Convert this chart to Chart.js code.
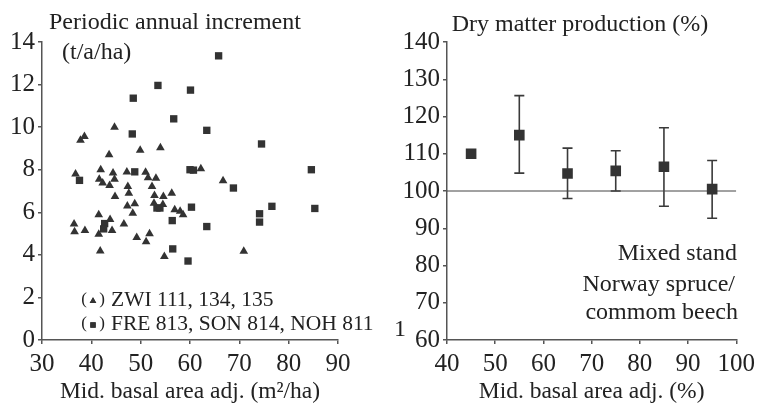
<!DOCTYPE html>
<html>
<head>
<meta charset="utf-8">
<script src="https://cdn.jsdelivr.net/npm/chart.js@4.4.1/dist/chart.umd.min.js"></script>
<style>
  html, body { margin: 0; padding: 0; background: #fff; }
  #wrap { position: relative; width: 760px; height: 403px; overflow: hidden; }
  #wrap canvas { position: absolute; top: 0; }
  #left { left: 0; }
  #right { left: 380px; }
</style>
</head>
<body>
<div id="wrap">
  <canvas id="left" width="390" height="403"></canvas>
  <canvas id="right" width="380" height="403"></canvas>
</div>
<script>
// left panel: ZWI 111, 134, 135 (triangles)
var triX = [44.7, 38.6, 37.8, 43.6, 49.9, 54.0, 62.2, 66.7, 36.8, 41.9, 44.4, 44.7, 47.2, 51.0, 51.5, 53.1,
            41.6, 42.3, 43.7, 47.4, 52.3, 47.6, 44.8, 52.8, 54.6, 56.3, 36.5, 36.6, 38.7, 41.5, 41.5, 43.8,
            44.2, 46.6, 41.8, 47.3, 48.4, 48.8, 49.2, 51.1, 51.8, 52.7, 54.5, 56.9, 58.0, 58.6, 54.8, 70.9];
var triY = [10.0, 9.56, 9.38, 8.7, 8.91, 9.03, 8.04, 7.48, 7.8, 8.0, 7.84, 7.55, 7.89, 7.88, 7.62, 7.6,
            7.55, 7.37, 7.26, 7.21, 7.21, 6.9, 6.74, 6.79, 6.74, 6.9, 5.45, 5.09, 5.15, 5.88, 4.97, 5.66,
            5.15, 5.45, 4.18, 6.3, 5.96, 6.4, 4.82, 4.62, 4.99, 6.42, 6.36, 6.12, 6.05, 5.88, 3.92, 4.17];

// left panel: FRE 813, SON 814, NOH 811 (squares)
var sqX = [65.8, 53.5, 60.1, 48.5, 56.7, 48.3, 63.4, 74.5, 84.6, 60.0, 60.7, 48.8, 37.6, 68.8,
           60.3, 56.4, 63.4, 74.1, 74.1, 76.6, 85.3, 56.5, 59.6, 42.7, 42.5, 53.3, 53.9];
var sqY = [13.35, 11.96, 11.74, 11.36, 10.39, 9.68, 9.85, 9.21, 8.0, 8.0, 7.98, 7.9, 7.5, 7.14,
           6.24, 5.61, 5.33, 5.93, 5.54, 6.28, 6.18, 4.28, 3.71, 5.47, 5.22, 6.2, 6.2];

// right panel: dry matter production
var dmX    = [45, 55, 65, 75, 85, 95];
var dmY    = [110, 115, 104.7, 105.4, 106.5, 100.5];
var dmHigh = [null, 125.6, 111.5, 110.8, 117, 108.2];
var dmLow  = [null, 104.8, 98, 100, 95.9, 92.7];
var refX = [40, 100];
var refY = [100, 100];

var FONT = "'Liberation Serif', 'Times New Roman', serif";
var INK = '#222';
var MARK = '#333';
var AXIS = '#555';

function pairs(xs, ys) {
  return xs.map(function (x, i) { return { x: x, y: ys[i] }; });
}

// text drawn at fixed spots on the canvas
var notesPlugin = {
  id: 'notes',
  afterDraw: function (chart, args, opts) {
    var ctx = chart.ctx;
    ctx.save();
    ctx.fillStyle = INK;
    ctx.textBaseline = 'middle';
    (opts.items || []).forEach(function (it) {
      ctx.font = (it.size || 22) + 'px ' + FONT;
      ctx.textAlign = it.align || 'left';
      ctx.fillText(it.text, it.x, it.y);
    });
    ctx.restore();
  }
};

// "(marker) label" legend rows
var legendPlugin = {
  id: 'parenLegend',
  afterDraw: function (chart, args, opts) {
    if (!opts.rows) return;
    var ctx = chart.ctx;
    ctx.save();
    chart.data.datasets.forEach(function (ds, i) {
      var y = opts.rows[i];
      ctx.fillStyle = INK;
      ctx.textBaseline = 'middle';
      ctx.textAlign = 'center';
      ctx.font = '17px ' + FONT;
      ctx.fillText('(', opts.x - 9, y);
      ctx.fillText(')', opts.x + 9, y);
      Chart.helpers.drawPoint(ctx, {
        pointStyle: ds.pointStyle, radius: 3.8, rotation: 0, borderWidth: 0
      }, opts.x, y + 1);
      ctx.fillStyle = MARK;
      ctx.fill();
      ctx.fillStyle = INK;
      ctx.textAlign = 'left';
      ctx.font = '21.5px ' + FONT;
      ctx.fillText(ds.label, opts.x + 18, y);
    });
    ctx.restore();
  }
};

// vertical error bars behind the squares
var errorBarsPlugin = {
  id: 'errorBars',
  beforeDatasetsDraw: function (chart) {
    var xs = chart.scales.x, ys = chart.scales.y;
    var ctx = chart.ctx;
    ctx.save();
    ctx.strokeStyle = '#3a3a3a';
    ctx.lineWidth = 1.6;
    dmX.forEach(function (v, i) {
      if (dmHigh[i] == null) return;
      var px = xs.getPixelForValue(v);
      var top = ys.getPixelForValue(dmHigh[i]);
      var bot = ys.getPixelForValue(dmLow[i]);
      ctx.beginPath();
      ctx.moveTo(px, top); ctx.lineTo(px, bot);
      ctx.moveTo(px - 5, top); ctx.lineTo(px + 5, top);
      ctx.moveTo(px - 5, bot); ctx.lineTo(px + 5, bot);
      ctx.stroke();
    });
    ctx.restore();
  }
};

function axisOpts(min, max, step, title) {
  var o = {
    type: 'linear',
    min: min,
    max: max,
    ticks: {
      stepSize: step,
      color: INK,
      font: { family: FONT, size: 25 },
      padding: 3
    },
    grid: {
      display: true,
      drawOnChartArea: false,
      drawTicks: true,
      tickLength: 4,
      color: AXIS,
      lineWidth: 1.5
    },
    border: { display: true, color: AXIS, width: 1.5 }
  };
  if (title) {
    o.ticks.padding = 5;
    o.title = {
      display: true,
      text: title,
      color: INK,
      font: { family: FONT, size: 23.5 },
      padding: { top: 0, bottom: -3 }
    };
  }
  return o;
}

var leftX = axisOpts(30, 90, 10, 'Mid. basal area adj. (m\u00b2/ha)');
leftX.afterFit = function (s) { s.height = 63; };
var leftY = axisOpts(0, 14, 2);
leftY.afterFit = function (s) { s.width = 42; };

var leftChart = new Chart(document.getElementById('left'), {
  type: 'scatter',
  data: {
    datasets: [{
      label: 'ZWI 111, 134, 135',
      data: pairs(triX, triY),
      pointStyle: 'triangle',
      pointRadius: 5,
      pointBackgroundColor: MARK,
      pointBorderWidth: 0
    }, {
      label: 'FRE 813, SON 814, NOH 811',
      data: pairs(sqX, sqY),
      pointStyle: 'rect',
      pointRadius: 5.2,
      pointBackgroundColor: MARK,
      pointBorderWidth: 0
    }]
  },
  options: {
    responsive: false,
    animation: false,
    layout: { padding: { top: 42, right: 52, left: 0, bottom: 0 } },
    scales: { x: leftX, y: leftY },
    plugins: {
      legend: { display: false },
      tooltip: { enabled: false },
      notes: {
        items: [
          { text: 'Periodic annual increment', x: 49, y: 23, size: 24 },
          { text: '(t/a/ha)', x: 62, y: 53, size: 24 }
        ]
      },
      parenLegend: { x: 93, rows: [300, 324] }
    }
  },
  plugins: [notesPlugin, legendPlugin]
});

var rightX = axisOpts(40, 100, 10, 'Mid. basal area adj. (%)');
rightX.afterFit = function (s) { s.height = 63; };
var rightY = axisOpts(60, 140, 10);
rightY.afterFit = function (s) { s.width = 67; };

var rightChart = new Chart(document.getElementById('right'), {
  type: 'scatter',
  data: {
    datasets: [{
      label: 'Dry matter production',
      data: pairs(dmX, dmY),
      pointStyle: 'rect',
      pointRadius: 7.5,
      pointBackgroundColor: MARK,
      pointBorderWidth: 0
    }, {
      label: '100 %',
      type: 'line',
      data: pairs(refX, refY),
      borderColor: '#444',
      borderWidth: 1,
      pointRadius: 0,
      order: 2
    }]
  },
  options: {
    responsive: false,
    animation: false,
    layout: { padding: { top: 42, right: 17, left: 0, bottom: 0 } },
    scales: { x: rightX, y: rightY },
    plugins: {
      legend: { display: false },
      tooltip: { enabled: false },
      notes: {
        items: [
          { text: 'Dry matter production (%)', x: 200, y: 25, size: 24, align: 'center' },
          { text: 'Mixed stand', x: 357, y: 254, size: 24, align: 'right' },
          { text: 'Norway spruce/', x: 355, y: 285, size: 24, align: 'right' },
          { text: 'commom beech', x: 358, y: 313, size: 24, align: 'right' },
          { text: '1', x: 20, y: 330, size: 24, align: 'center' }
        ]
      }
    }
  },
  plugins: [notesPlugin, errorBarsPlugin]
});
</script>
</body>
</html>
